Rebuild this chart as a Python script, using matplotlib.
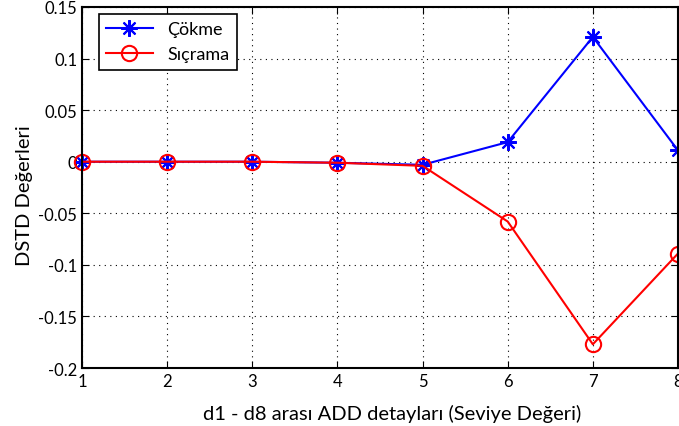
import matplotlib
matplotlib.use("Agg")
import matplotlib.pyplot as plt

plt.rcParams['font.family'] = ['Lato', 'DejaVu Sans']

levels = [1, 2, 3, 4, 5, 6, 7, 8]
cokme = [0.0, 0.0, 0.0, -0.001, -0.003, 0.019, 0.121, 0.011]
sicrama = [0.0, 0.0, 0.0, -0.001, -0.004, -0.058, -0.177, -0.089]

fig = plt.figure(figsize=(6.79, 4.27), dpi=100)
ax = fig.add_axes([0.1208, 0.1358, 0.8777, 0.8455])

# MATLAB-like asterisk (plus + cross)
ax.plot(levels, cokme, color='blue', marker=(8, 2, 0), markersize=12,
        markeredgewidth=1.5, linewidth=1.5, label='Çökme', clip_on=False)
ax.plot(levels, sicrama, color='red', marker='o', markersize=11, linewidth=1.5,
        markerfacecolor='none', markeredgewidth=1.5, label='Sıçrama', clip_on=False)

ax.set_xlim(1, 8)
ax.set_ylim(-0.2, 0.15)
ax.set_xticks(levels)
ax.set_yticks([-0.2, -0.15, -0.1, -0.05, 0, 0.05, 0.1, 0.15])
ax.set_yticklabels(['-0.2', '-0.15', '-0.1', '-0.05', '0', '0.05', '0.1', '0.15'])
ax.grid(True, color='black', linestyle=(0, (1, 4)), linewidth=0.8)
ax.tick_params(direction='in', top=True, right=True, labelsize=12, length=5)
for s in ax.spines.values():
    s.set_linewidth(1.5)

ax.set_xlabel('d1 - d8 arası ADD detayları (Seviye Değeri)', fontsize=14.5)
ax.xaxis.set_label_coords(0.52, -0.1)
ax.set_ylabel('DSTD Değerleri', fontsize=14.5)
ax.yaxis.set_label_coords(-0.082, 0.48)

leg = ax.legend(loc='upper left', bbox_to_anchor=(0.028, 0.98), fontsize=13,
                fancybox=False, framealpha=1, edgecolor='black', borderaxespad=0,
                handlelength=2.6)
leg.get_frame().set_linewidth(1.2)

fig.savefig('out.png', dpi=100)
